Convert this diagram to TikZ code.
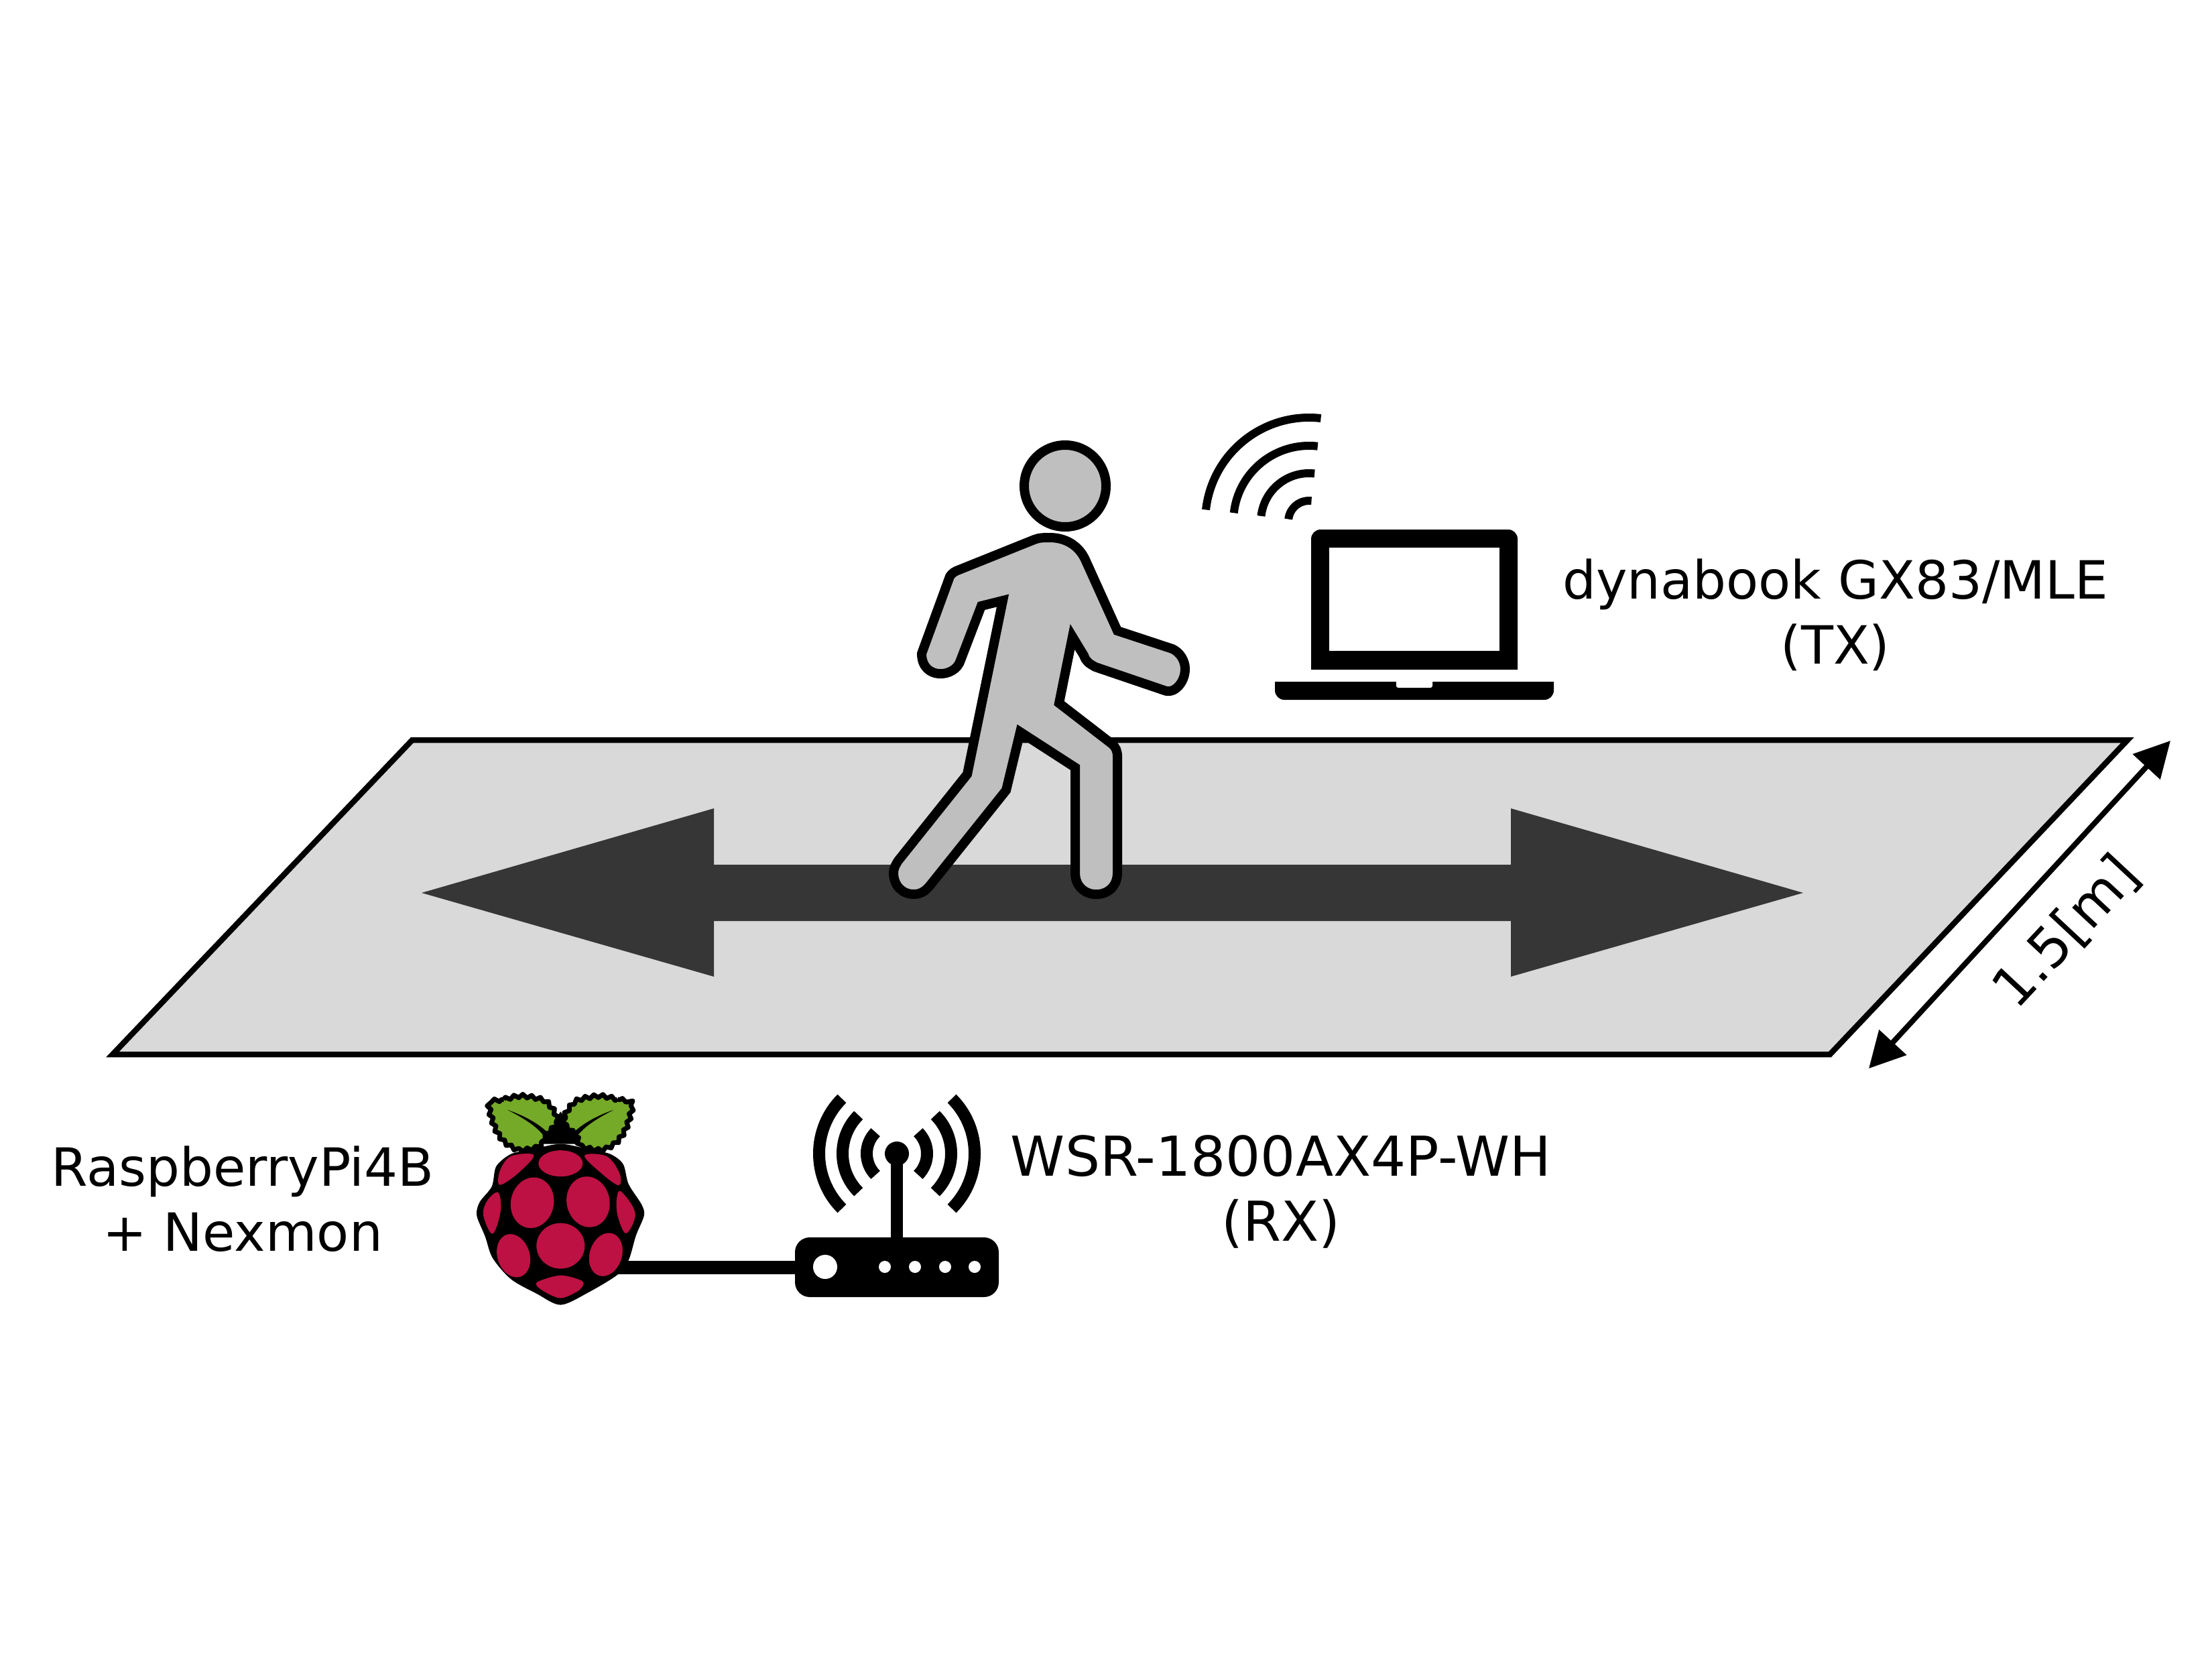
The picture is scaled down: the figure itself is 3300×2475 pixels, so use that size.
\documentclass[tikz,border=0pt]{standalone}
\usepackage{fontspec}
\setmainfont{DejaVu Sans}
\usetikzlibrary{arrows.meta, positioning, decorations.pathmorphing}
\definecolor{floorgray}{RGB}{217,217,217}
\definecolor{arrowgray}{RGB}{54,54,54}
\definecolor{bodygray}{RGB}{191,191,191}
\definecolor{leafgreen}{RGB}{117,169,40}
\definecolor{berryred}{RGB}{188,17,66}
\tikzstyle{lbl}=[font=\fontsize{78.6}{97}\selectfont, align=center, text=black, inner sep=0pt]
\tikzstyle{figure}=[draw=black, fill=bodygray, line width=14pt, line join=miter, miter limit=20]
\tikzstyle{wave}=[draw=black, line width=12pt]
\tikzstyle{signal}=[draw=black, line width=18pt]
\tikzstyle{dimarr}=[{Triangle[length=53pt,width=54pt]}-{Triangle[length=53pt,width=54pt]}, line width=8pt]
\tikzstyle{cable}=[draw=black, line width=20pt]
\tikzstyle{routerbox}=[rectangle, rounded corners=22pt, fill=black, inner sep=0pt,
  minimum width=304pt, minimum height=89pt]
\tikzstyle{led}=[fill=white]
\tikzstyle{seed}=[fill=berryred]
\tikzstyle{leaf}=[draw=black, fill=leafgreen, line width=7pt, line join=round,
  decorate, decoration={zigzag, segment length=13pt, amplitude=2.5pt}]
\newcommand{\seedoval}[5]{\fill[seed, shift={(#1,#2)}, rotate=#5] (0,0) ellipse[x radius=#3pt, y radius=#4pt];}
\begin{document}
\begin{tikzpicture}[x=1pt, y=-1pt]
  \useasboundingbox (0,0) rectangle (3300,2475);
  % floor and walking direction
  \draw[fill=floorgray, line width=8.5pt, line join=miter] (615,1104) -- (3174,1104) -- (2730,1573) -- (168,1573) -- cycle;
  \fill[arrowgray] (629,1332) -- (1065,1206) -- (1065,1290) -- (2254,1290) -- (2254,1206) -- (2690,1332)
    -- (2254,1457) -- (2254,1374) -- (1065,1374) -- (1065,1457) -- cycle;
  % person
  \node[figure, circle, minimum size=122pt, inner sep=0pt] (head) at (1589,725) {};
  \draw[figure] (1543,805) .. controls (1550,802) and (1558,802) .. (1568,802)
    .. controls (1595,803) and (1612,818) .. (1620,837) -- (1667,941) -- (1749,968)
    .. controls (1760,973) and (1768,985) .. (1768,998) .. controls (1768,1018) and (1752,1036) .. (1737,1030)
    -- (1634,995) .. controls (1625,990) and (1620,987) .. (1617,978) -- (1600,950)
    -- (1580,1049) -- (1659,1110) .. controls (1664,1114) and (1667,1120) .. (1667,1128)
    -- (1667,1302) .. controls (1667,1345) and (1604,1345) .. (1604,1302)
    -- (1604,1145) -- (1522,1092) -- (1501,1179) -- (1389,1319)
    .. controls (1380,1331) and (1372,1334) .. (1363,1334) .. controls (1345,1334) and (1333,1320) .. (1333,1302)
    .. controls (1333,1296) and (1336,1290) .. (1340,1284)
    -- (1443,1155) -- (1496,896) -- (1464,904) -- (1433,985)
    .. controls (1425,1012) and (1375,1015) .. (1375,975) -- (1417,860)
    .. controls (1420,855) and (1425,852) .. (1431,850) -- cycle;
  % laptop
  \fill[black] (1956,999) {[rounded corners=14pt] -- (1956,790) -- (2264,790)} -- (2264,999) -- cycle;
  \fill[white] (1983,817) rectangle (2237,971);
  \fill[black] (1902,1017) {[rounded corners=14pt] -- (1902,1044) -- (2318,1044)} -- (2318,1017) -- cycle;
  \fill[white, rounded corners=3pt] (2083,1010) rectangle (2137,1026);
  \foreach \r in {31,72,113,155}{
    \draw[wave] ([shift={(83.5:\r pt)}]1953,778) arc[start angle=83.5, end angle=173.5, radius=\r pt];
  }
  \node[lbl] (tx) at (2738,917) {dynabook GX83/MLE\\(TX)};
  % width of the floor
  \coordinate (dimA) at (2788,1594);
  \coordinate (dimB) at (3238,1105);
  \draw[dimarr] (dimA) -- (dimB);
  \node[lbl, rotate=47, font=\fontsize{82}{97}\selectfont] (width) at (3083,1391) {1.5[m]};
  % router
  \coordinate (rpi) at (900,1890.5);
  \node[routerbox] (router) at (1338,1890.5) {};
  \draw[cable] (rpi) -- (router.west);
  \draw[line width=18pt] (router.north) -- (1338,1721);
  \fill (1338,1721) circle (18pt);
  \fill[led] (1231,1890) circle (18pt);
  \foreach \x in {1320,1365,1410,1454}{
    \fill[led] (\x,1890) circle (9pt);
  }
  \foreach \r in {45,81,116}{
    \draw[signal] ([shift={(135:\r pt)}]1338,1721) arc[start angle=135, end angle=225, radius=\r pt];
    \draw[signal] ([shift={(-45:\r pt)}]1338,1721) arc[start angle=-45, end angle=45, radius=\r pt];
  }
  \node[lbl, font=\fontsize{82}{97}\selectfont] (rx) at (1911,1778) {WSR-1800AX4P-WH\\(RX)};
  % raspberry
  \begin{scope}[shift={(680,1600)}, x=0.5485pt, y=-0.3333pt]
    \fill plot[smooth cycle] coordinates {(285,320) (365,345) (420,365) (455,410) (470,500) (505,590) (512,640) (490,730) (470,840) (440,905) (360,985) (285,1040) (220,990) (150,925) (100,830) (80,735) (57,640) (65,580) (98,510) (110,420) (150,365) (205,345)};
    \fill (285,175) -- (225,320) -- (345,320) -- cycle;
    \draw[leaf] plot[smooth cycle] coordinates {(92,135) (130,120) (180,105) (240,125) (268,175) (276,225) (252,268) (242,288) (228,330) (175,347) (135,315) (110,260) (95,190)};
    \draw[leaf] plot[smooth cycle] coordinates {(478,135) (440,120) (390,105) (330,125) (302,175) (294,225) (318,268) (328,288) (342,330) (395,347) (435,315) (460,260) (475,190)};
    \fill (140,167) .. controls (190,195) and (230,235) .. (250,270) -- (240,285) .. controls (220,240) and (180,200) .. (140,167) -- cycle;
    \fill (430,167) .. controls (380,195) and (340,235) .. (320,270) -- (330,285) .. controls (350,240) and (390,200) .. (430,167) -- cycle;
    \seedoval{285}{407}{33}{19.5}{0}
    \seedoval{208}{583}{32}{38}{-12}
    \seedoval{360}{579}{32}{38}{12}
    \seedoval{285}{776}{36}{34}{0}
    \seedoval{157}{820}{24}{33}{18}
    \seedoval{408}{815}{24}{33}{-18}
    \fill[seed] plot[smooth cycle, tension=0.6] coordinates {(212,370) (150,375) (120,440) (120,503) (170,450)};
    \fill[seed] plot[smooth cycle, tension=0.6] coordinates {(350,372) (410,375) (445,450) (443,505) (395,450)};
    \fill[seed] plot[smooth cycle, tension=0.6] coordinates {(115,537) (122,620) (100,722) (75,640) (85,575)};
    \fill[seed] plot[smooth cycle, tension=0.6] coordinates {(450,533) (488,630) (463,720) (440,640) (438,560)};
    \fill[seed] plot[smooth cycle] coordinates {(285,908) (345,935) (335,975) (285,1010) (235,975) (220,940)};
  \end{scope}
  \node[lbl] (pi) at (362,1789) {RaspberryPi4B\\+ Nexmon};
\end{tikzpicture}
\end{document}
